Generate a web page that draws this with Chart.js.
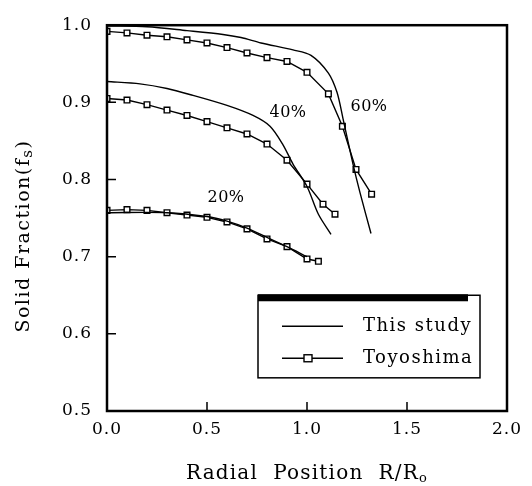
<!DOCTYPE html>
<html>
<head>
<meta charset="utf-8">
<script src="https://cdn.jsdelivr.net/npm/chart.js@4/dist/chart.umd.min.js"></script>
<style>
  html, body { margin: 0; padding: 0; background: #fff; }
  #wrap { width: 532px; height: 486px; }
</style>
</head>
<body>
<div id="wrap"><canvas id="chart"></canvas></div>
<script>
// This study (model curves)
var study20X = [0, 0.3, 0.5, 0.6, 0.7, 0.8, 0.9, 1.0];
var study20Y = [0.757, 0.757, 0.752, 0.746, 0.737, 0.725, 0.713, 0.700];
var study40X = [0, 0.165, 0.3, 0.43, 0.6, 0.73, 0.815, 0.88, 0.93, 1.0, 1.057, 1.12];
var study40Y = [0.927, 0.924, 0.918, 0.909, 0.896, 0.883, 0.869, 0.845, 0.820, 0.791, 0.755, 0.729];
var study60X = [0, 0.2, 0.4, 0.58, 0.67, 0.77, 0.93, 1.02, 1.107, 1.15, 1.18, 1.23, 1.265, 1.32];
var study60Y = [0.999, 0.998, 0.993, 0.988, 0.984, 0.977, 0.968, 0.961, 0.938, 0.913, 0.879, 0.820, 0.783, 0.730];

// Toyoshima (measured, square markers)
var toyo20X = [0, 0.1, 0.2, 0.3, 0.4, 0.5, 0.6, 0.7, 0.8, 0.9, 1.0, 1.057];
var toyo20Y = [0.760, 0.761, 0.760, 0.757, 0.754, 0.751, 0.745, 0.736, 0.723, 0.713, 0.697, 0.694];
var toyo40X = [0, 0.1, 0.2, 0.3, 0.4, 0.5, 0.6, 0.7, 0.8, 0.9, 1.0, 1.08, 1.14];
var toyo40Y = [0.905, 0.903, 0.897, 0.890, 0.883, 0.875, 0.867, 0.859, 0.846, 0.825, 0.794, 0.768, 0.755];
var toyo60X = [0, 0.1, 0.2, 0.3, 0.4, 0.5, 0.6, 0.7, 0.8, 0.9, 1.0, 1.107, 1.177, 1.245, 1.323];
var toyo60Y = [0.992, 0.990, 0.987, 0.985, 0.981, 0.977, 0.971, 0.964, 0.958, 0.953, 0.939, 0.911, 0.869, 0.813, 0.781];

var xTicks = [0, 0.5, 1.0, 1.5, 2.0];
var yTicks = [0.5, 0.6, 0.7, 0.8, 0.9, 1.0];

var labelTexts = ['20%', '40%', '60%'];
var labelX = [0.595, 0.905, 1.31];
var labelY = [0.776, 0.887, 0.894];

var legendNames = ['This study', 'Toyoshima'];

// axis titles as [text, subscript, tail]
var xTitle = ['Radial  Position  R/R', 'o', ''];
var yTitle = ['Solid Fraction(f', 's', ')'];

var FONT = '"DejaVu Serif", "Liberation Serif", serif';

function pts(xs, ys) {
  return xs.map(function (x, i) { return { x: x, y: ys[i] }; });
}

function studySet(xs, ys) {
  return {
    label: legendNames[0],
    data: pts(xs, ys),
    borderColor: '#000',
    borderWidth: 1.4,
    pointRadius: 0,
    tension: 0.3,
    showLine: true,
    fill: false
  };
}

function toyoSet(xs, ys) {
  return {
    label: legendNames[1],
    data: pts(xs, ys),
    borderColor: '#000',
    borderWidth: 1.4,
    pointStyle: 'rect',
    pointRadius: 4,
    pointBackgroundColor: '#fff',
    pointBorderColor: '#000',
    pointBorderWidth: 1.4,
    tension: 0,
    showLine: true,
    fill: false
  };
}

// centred text with a subscript piece
function drawTitle(ctx, parts, size, subSize, spacing, dy) {
  ctx.letterSpacing = spacing + 'px';
  ctx.font = size + 'px ' + FONT;
  var w0 = ctx.measureText(parts[0]).width;
  var w2 = ctx.measureText(parts[2]).width;
  ctx.font = subSize + 'px ' + FONT;
  var w1 = ctx.measureText(parts[1]).width;
  var x = -(w0 + w1 + w2) / 2;
  ctx.textAlign = 'left';
  ctx.textBaseline = 'alphabetic';
  ctx.font = size + 'px ' + FONT;
  ctx.fillText(parts[0], x, 0);
  ctx.font = subSize + 'px ' + FONT;
  ctx.fillText(parts[1], x + w0, dy);
  ctx.font = size + 'px ' + FONT;
  ctx.fillText(parts[2], x + w0 + w1, 0);
}

var spacing = {
  id: 'spacing',
  beforeDraw: function (chart) { chart.ctx.letterSpacing = '1px'; }
};

// frame, inward ticks, titles, annotations and legend box
var extras = {
  id: 'extras',
  afterDraw: function (chart) {
    var ctx = chart.ctx;
    var a = chart.chartArea;
    var xs = chart.scales.x, ys = chart.scales.y;
    ctx.save();
    ctx.strokeStyle = '#000';
    ctx.lineWidth = 2.5;
    ctx.strokeRect(a.left, a.top, a.right - a.left, a.bottom - a.top);

    ctx.lineWidth = 1.5;
    ctx.beginPath();
    yTicks.forEach(function (v) {
      if (v === yTicks[0] || v === yTicks[yTicks.length - 1]) return;
      var py = ys.getPixelForValue(v);
      ctx.moveTo(a.left, py);
      ctx.lineTo(a.left + 9, py);
    });
    xTicks.forEach(function (v) {
      if (v === xTicks[0] || v === xTicks[xTicks.length - 1]) return;
      var px = xs.getPixelForValue(v);
      ctx.moveTo(px, a.bottom);
      ctx.lineTo(px, a.bottom - 9);
    });
    ctx.stroke();

    ctx.fillStyle = '#000';

    // axis titles
    ctx.save();
    ctx.translate((a.left + a.right) / 2, a.bottom + 68);
    drawTitle(ctx, xTitle, 20, 13, 1.2, 3);
    ctx.restore();
    ctx.save();
    ctx.translate(29, (a.top + a.bottom) / 2 + 18);
    ctx.rotate(-Math.PI / 2);
    drawTitle(ctx, yTitle, 19, 15, 1.5, 3);
    ctx.restore();

    ctx.letterSpacing = '0.5px';
    ctx.font = '16px ' + FONT;
    ctx.textAlign = 'center';
    ctx.textBaseline = 'middle';
    labelTexts.forEach(function (t, i) {
      ctx.fillText(t, xs.getPixelForValue(labelX[i]), ys.getPixelForValue(labelY[i]));
    });

    // legend box
    var L = xs.getPixelForValue(0.755), R = xs.getPixelForValue(1.865);
    var T = ys.getPixelForValue(0.650), B = ys.getPixelForValue(0.543);
    ctx.fillStyle = '#fff';
    ctx.fillRect(L, T, R - L, B - T);
    ctx.lineWidth = 1.5;
    ctx.strokeRect(L, T, R - L, B - T);
    ctx.fillStyle = '#000';
    ctx.fillRect(L, T - 1, xs.getPixelForValue(1.805) - L, 7);

    var y1 = T + 31, y2 = T + 63;
    ctx.lineWidth = 1.4;
    ctx.beginPath();
    ctx.moveTo(L + 24, y1); ctx.lineTo(L + 85, y1);
    ctx.moveTo(L + 24, y2); ctx.lineTo(L + 85, y2);
    ctx.stroke();
    ctx.fillStyle = '#fff';
    ctx.fillRect(L + 46, y2 - 3.5, 8, 7);
    ctx.strokeRect(L + 46, y2 - 3.5, 8, 7);

    ctx.fillStyle = '#000';
    ctx.font = '18px ' + FONT;
    ctx.letterSpacing = '1.5px';
    ctx.textAlign = 'left';
    ctx.fillText(legendNames[0], L + 105, y1);
    ctx.fillText(legendNames[1], L + 105, y2);
    ctx.restore();
  }
};

var config = {
  type: 'scatter',
  data: {
    datasets: [
      studySet(study20X, study20Y),
      studySet(study40X, study40Y),
      studySet(study60X, study60Y),
      toyoSet(toyo20X, toyo20Y),
      toyoSet(toyo40X, toyo40Y),
      toyoSet(toyo60X, toyo60Y)
    ]
  },
  options: {
    responsive: true,
    maintainAspectRatio: false,
    animation: false,
    layout: { padding: { top: 14, right: 25, left: 0, bottom: 0 } },
    plugins: {
      legend: { display: false },
      tooltip: { enabled: false }
    },
    scales: {
      x: {
        type: 'linear',
        min: 0,
        max: 2,
        afterFit: function (s) { s.height = 75; },
        afterBuildTicks: function (s) { s.ticks = xTicks.map(function (v) { return { value: v }; }); },
        grid: { display: false, drawTicks: false },
        border: { display: false },
        ticks: {
          color: '#000',
          padding: 8,
          maxRotation: 0,
          font: { family: FONT, size: 17 },
          callback: function (v) { return v.toFixed(1); }
        }
      },
      y: {
        type: 'linear',
        min: 0.5,
        max: 1.0,
        afterFit: function (s) { s.width = 107; },
        afterBuildTicks: function (s) { s.ticks = yTicks.map(function (v) { return { value: v }; }); },
        grid: { display: false, drawTicks: false },
        border: { display: false },
        ticks: {
          color: '#000',
          padding: 15,
          font: { family: FONT, size: 17 },
          callback: function (v) { return v.toFixed(1); }
        }
      }
    }
  },
  plugins: [spacing, extras]
};

var chart = new Chart(document.getElementById('chart').getContext('2d'), config);
</script>
</body>
</html>
